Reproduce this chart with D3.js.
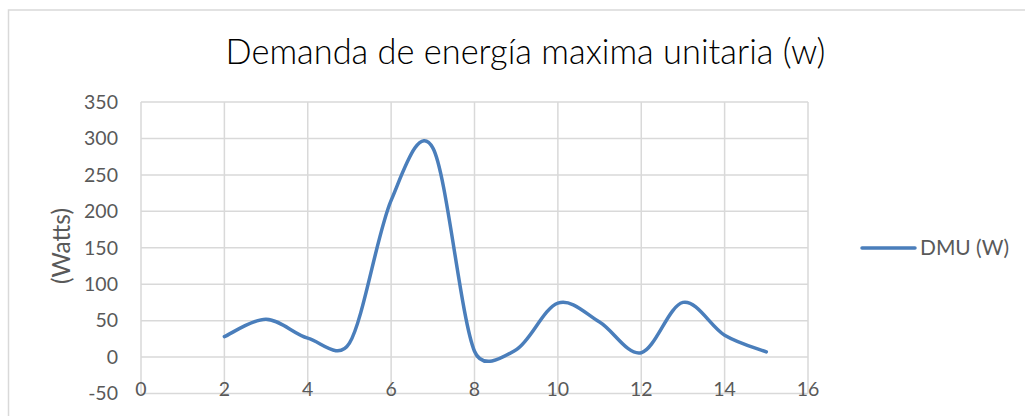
<!DOCTYPE html>
<html>
<head>
<meta charset="utf-8">
<script src="https://cdn.jsdelivr.net/npm/d3@7/dist/d3.min.js"></script>
<style>
  html, body { margin: 0; padding: 0; background: #fff; }
  svg { display: block; }
  text { font-family: Lato, "Open Sans", "Liberation Sans", sans-serif; }
</style>
</head>
<body>
<script>
// Demanda de energía máxima unitaria
const xValues = [2, 3, 4, 5, 6, 7, 8, 9, 10, 11, 12, 13, 14, 15];
const dmuValues = [28, 52, 26, 19, 215, 287, 8, 10, 74, 48, 6, 75, 30, 7];
const xTicks = [0, 2, 4, 6, 8, 10, 12, 14, 16];
const yTicks = [-50, 0, 50, 100, 150, 200, 250, 300, 350];
const titleText = "Demanda de energía maxima unitaria (w)";
const yAxisTitle = "(Watts)";
const seriesName = "DMU (W)";

const W = 1025, H = 416;
const plot = { left: 141, right: 808, top: 102, bottom: 393.5 };
const lineColor = "#4a7ebb";
const gridColor = "#d9d9d9";
const labelColor = "#595959";

const svg = d3.select("body").append("svg")
  .attr("width", W).attr("height", H);

// chart frame
svg.append("rect")
  .attr("x", 8.5).attr("y", 10).attr("width", W + 10).attr("height", H + 20)
  .attr("fill", "#fff").attr("stroke", gridColor).attr("stroke-width", 1.5);

const x = d3.scaleLinear().domain([0, 16]).range([plot.left, plot.right]);
const y = d3.scaleLinear().domain([-50, 350]).range([plot.bottom, plot.top]);

// shrink or grow a text's font so it spans the given width
function fitWidth(sel, width) {
  const node = sel.node();
  const fs = parseFloat(sel.attr("font-size"));
  const w = node.getComputedTextLength();
  if (w > 0) sel.attr("font-size", (fs * width / w).toFixed(2));
  return sel;
}

// horizontal gridlines
svg.append("g")
  .selectAll("line").data(yTicks).join("line")
  .attr("x1", plot.left).attr("x2", plot.right)
  .attr("y1", d => y(d)).attr("y2", d => y(d))
  .attr("stroke", gridColor).attr("stroke-width", 1.5);

// vertical gridlines
svg.append("g")
  .selectAll("line").data(xTicks).join("line")
  .attr("x1", d => x(d)).attr("x2", d => x(d))
  .attr("y1", plot.top).attr("y2", plot.bottom)
  .attr("stroke", gridColor).attr("stroke-width", 1.5);

// y tick labels
svg.append("g")
  .selectAll("text").data(yTicks).join("text")
  .attr("x", 118).attr("y", d => y(d))
  .attr("dy", "0.35em")
  .attr("text-anchor", "end")
  .attr("font-size", 19.5)
  .attr("fill", labelColor)
  .text(d => d);

// x tick labels
svg.append("g")
  .selectAll("text").data(xTicks).join("text")
  .attr("x", d => x(d)).attr("y", 389)
  .attr("dy", "0.35em")
  .attr("text-anchor", "middle")
  .attr("font-size", 19.5)
  .attr("fill", labelColor)
  .text(d => d);

// axis title
const yt = svg.append("text")
  .attr("transform", "translate(61,246) rotate(-90)")
  .attr("text-anchor", "middle")
  .attr("dy", "0.35em")
  .attr("font-size", 20)
  .attr("fill", labelColor)
  .text(yAxisTitle);
fitWidth(yt, 76);

// chart title
const tt = svg.append("text")
  .attr("x", 525.5).attr("y", 52)
  .attr("dy", "0.35em")
  .attr("text-anchor", "middle")
  .attr("font-size", 30)
  .attr("font-weight", 300)
  .attr("fill", "#000")
  .text(titleText);
fitWidth(tt, 600);

// smoothed series: Bezier segments with tangents from neighbouring points,
// each control arm limited to half of its segment's chord
function smoothPath(points) {
  const p = d3.path();
  const n = points.length;
  const tangent = i => {
    const a = points[Math.max(0, i - 1)], b = points[Math.min(n - 1, i + 1)];
    return [(b[0] - a[0]) / 6, (b[1] - a[1]) / 6];
  };
  const clamp = (t, limit) => {
    const len = Math.hypot(t[0], t[1]);
    return len > limit ? [t[0] * limit / len, t[1] * limit / len] : t;
  };
  p.moveTo(points[0][0], points[0][1]);
  for (let i = 0; i < n - 1; i++) {
    const a = points[i], b = points[i + 1];
    const half = Math.hypot(b[0] - a[0], b[1] - a[1]) / 2;
    const ta = clamp(tangent(i), half), tb = clamp(tangent(i + 1), half);
    p.bezierCurveTo(a[0] + ta[0], a[1] + ta[1], b[0] - tb[0], b[1] - tb[1], b[0], b[1]);
  }
  return p.toString();
}

const pts = xValues.map((v, i) => [x(v), y(dmuValues[i])]);
svg.append("path")
  .attr("d", smoothPath(pts))
  .attr("fill", "none")
  .attr("stroke", lineColor)
  .attr("stroke-width", 3.5)
  .attr("stroke-linecap", "round")
  .attr("stroke-linejoin", "round");

// legend
const lg = svg.append("g").attr("transform", "translate(862,248)");
lg.append("line")
  .attr("x1", 0).attr("x2", 53).attr("y1", 0).attr("y2", 0)
  .attr("stroke", lineColor).attr("stroke-width", 3.5)
  .attr("stroke-linecap", "round");
const lt = lg.append("text")
  .attr("x", 58).attr("y", 0).attr("dy", "0.35em")
  .attr("font-size", 20)
  .attr("fill", labelColor)
  .text(seriesName);
fitWidth(lt, 89);
</script>
</body>
</html>
